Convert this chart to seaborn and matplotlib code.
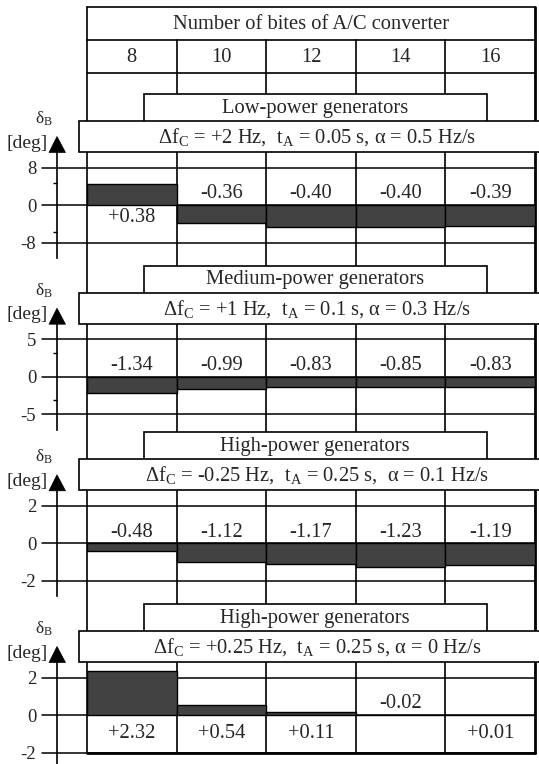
import matplotlib
matplotlib.use("Agg")
import matplotlib.pyplot as plt
import seaborn as sns
import pandas as pd
from matplotlib.patches import Rectangle, Polygon
from matplotlib.transforms import blended_transform_factory

# ---------------- data ----------------
cats = ["8", "10", "12", "14", "16"]
header_title = "Number of bites of A/C converter"
panel_names = ["Low-power generators", "Medium-power generators",
               "High-power generators", "High-power generators"]
panel_params = [
    r"Δf$_\mathrm{C}$ = +2 Hz,  t$_\mathrm{A}$ = 0.05 s, α = 0.5 Hz/s",
    r"Δf$_\mathrm{C}$ = +1 Hz,  t$_\mathrm{A}$ = 0.1 s, α = 0.3 Hz/s",
    r"Δf$_\mathrm{C}$ = -0.25 Hz,  t$_\mathrm{A}$ = 0.25 s,  α = 0.1 Hz/s",
    r"Δf$_\mathrm{C}$ = +0.25 Hz,  t$_\mathrm{A}$ = 0.25 s, α = 0 Hz/s",
]
# printed values
low_values = [0.38, -0.36, -0.40, -0.40, -0.39]
medium_values = [-1.34, -0.99, -0.83, -0.85, -0.83]
high_values = [-0.48, -1.12, -1.17, -1.23, -1.19]
high2_values = [2.32, 0.54, 0.11, -0.02, 0.01]
# bar heights in deg, as drawn
low_bars = [4.5, -3.9, -4.7, -4.7, -4.5]
medium_bars = [-2.13, -1.6, -1.4, -1.4, -1.4]
high_bars = [-0.4, -1.0, -1.13, -1.24, -1.14]
high2_bars = [2.35, 0.54, 0.15, -0.02, 0.01]
tick_steps = [8, 5, 2, 2]
minor_ticks = [[4.6, -5.7], [3.1, -3.1], [], []]

panel_values = [low_values, medium_values, high_values, high2_values]
panel_bars = [low_bars, medium_bars, high_bars, high2_bars]

# ---------------- layout (pixels) ----------------
W, H = 539, 764
COL_L, COL_R = 87, 535
HEADER_TOP, HEADER_MID, HEADER_BOT = 7, 40, 73
TABLE_BOTTOM = 753
Y0 = [205, 376.7, 543.3, 715]
PX_STEP = 37.5
AX_X = 57
GRID_X0 = 42
AX_TOP, AX_BOT = 75, 60
POS_LABEL_OFF = [13, 13, 13, 18]
NEG_LABEL_OFF = 11
AXIS_BOTTOM = [53, 53, 53, 55]

sns.set_style("white")
plt.rcParams["font.family"] = ["Liberation Serif", "DejaVu Serif"]
plt.rcParams["mathtext.fontset"] = "custom"
plt.rcParams["mathtext.rm"] = "Liberation Serif"
plt.rcParams["mathtext.it"] = "Liberation Serif:italic"

fig = plt.figure(figsize=(W / 100, H / 100), dpi=100)
fig.patch.set_facecolor("white")

ov = fig.add_axes([0, 0, 1, 1], zorder=0)
ov.set_xlim(0, W)
ov.set_ylim(H, 0)
ov.axis("off")

LW = 1.2
FS = 14.8
# header / table frame
ov.plot([COL_L, COL_R], [HEADER_TOP] * 2, color="k", lw=LW)
ov.plot([COL_L, COL_R], [HEADER_MID] * 2, color="k", lw=LW)
ov.plot([COL_L, COL_R], [HEADER_BOT] * 2, color="k", lw=LW)
ov.plot([COL_L, COL_L], [HEADER_TOP, TABLE_BOTTOM], color="k", lw=LW)
ov.plot([COL_R, COL_R], [HEADER_TOP, TABLE_BOTTOM], color="k", lw=2.0)
ov.plot([COL_L, COL_R], [TABLE_BOTTOM] * 2, color="k", lw=2.0)
ov.text((COL_L + COL_R) / 2, (HEADER_TOP + HEADER_MID) / 2 + 1, header_title,
        ha="center", va="center", fontsize=FS)

colw = (COL_R - COL_L) / len(cats)
for i in range(1, len(cats)):
    x = COL_L + i * colw
    ov.plot([x, x], [HEADER_MID, TABLE_BOTTOM], color="k", lw=LW)

first_ax = None
for p in range(4):
    y0 = Y0[p]
    step = tick_steps[p]
    ppu = PX_STEP / step
    top_px, bot_px = y0 - AX_TOP, y0 + AX_BOT
    ax = fig.add_axes([COL_L / W, 1 - bot_px / H, (COL_R - COL_L) / W,
                       (bot_px - top_px) / H], zorder=1)
    ax.patch.set_alpha(0)
    df = pd.DataFrame({"bits": cats, "deg": panel_bars[p]})
    sns.barplot(data=df, x="bits", y="deg", order=cats, ax=ax, width=1,
                color="#424242", edgecolor="black", linewidth=1.0,
                saturation=1, zorder=3)
    ax.set_xlim(-0.5, len(cats) - 0.5)
    ax.set_ylim(-AX_BOT / ppu, AX_TOP / ppu)
    for v in (step, 0, -step):
        ax.axhline(v, xmin=(GRID_X0 - COL_L) / (COL_R - COL_L), xmax=1,
                   color="black", lw=1.1, clip_on=False, zorder=2)
    for s in ("top", "right", "bottom"):
        ax.spines[s].set_visible(False)
    ax.spines["left"].set_position(("outward", (COL_L - AX_X) * 0.72))
    ax.spines["left"].set_bounds(-AXIS_BOTTOM[p] / ppu, 52.5 / ppu)
    ax.spines["left"].set_linewidth(1.2)
    ax.spines["left"].set_color("black")
    ax.set_yticks([step, 0, -step])
    ax.set_yticklabels([str(step), "0", str(-step)])
    ax.tick_params(axis="y", which="major", length=0, pad=15, labelsize=13.5)
    if minor_ticks[p]:
        ax.set_yticks(minor_ticks[p], minor=True)
        ax.tick_params(axis="y", which="minor", length=3, width=1, direction="out",
                       color="black", left=True)
    ax.set_xticks([])
    ax.set_xlabel("")
    ax.set_ylabel("")
    for i, v in enumerate(panel_values[p]):
        off = -NEG_LABEL_OFF if v < 0 else POS_LABEL_OFF[p]
        ax.annotate(f"{v:+.2f}" if v > 0 else f"{v:.2f}", xy=(i, 0),
                    xytext=(0, -off * 0.72), textcoords="offset points",
                    ha="center", va="center", fontsize=FS, zorder=4)
    if first_ax is None:
        first_ax = ax

    # panel name box and parameter box
    ov.add_patch(Rectangle((143.5, y0 - 111), 343, 28, facecolor="white",
                           edgecolor="black", lw=LW, zorder=5))
    ov.text(315, y0 - 97, panel_names[p], ha="center", va="center",
            fontsize=FS, zorder=6)
    ov.add_patch(Rectangle((79, y0 - 84), 470, 31, facecolor="white",
                           edgecolor="black", lw=LW, zorder=7))
    ov.text(317, y0 - 68, panel_params[p], ha="center", va="center",
            fontsize=FS, zorder=8)
    # axis arrow and unit labels
    ov.add_patch(Polygon([(49, y0 - 52.5), (65.5, y0 - 52.5), (57, y0 - 68.5)],
                         closed=True, facecolor="black", edgecolor="black",
                         lw=0.5, zorder=6))
    ov.text(44, y0 - 86, r"δ$_\mathrm{B}$", ha="center", va="center",
            fontsize=12.5, zorder=6)
    ov.text(48, y0 - 62, "[deg]", ha="right", va="center", fontsize=14, zorder=6)

# column labels in the header, placed on the category scale
tr = blended_transform_factory(first_ax.transData, ov.transData)
for i, c in enumerate(cats):
    ov.text(i, (HEADER_MID + HEADER_BOT) / 2 + 1, c, transform=tr,
            ha="center", va="center", fontsize=FS)

fig.savefig("out.png", dpi=100, facecolor="white")
